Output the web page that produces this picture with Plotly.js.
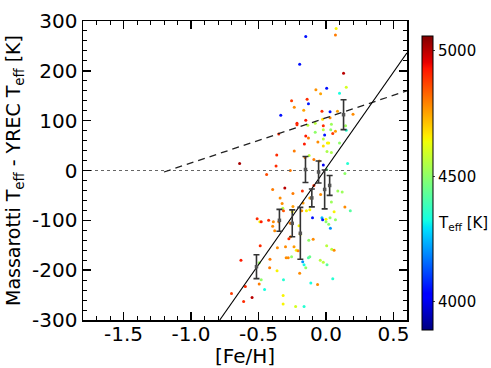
<!DOCTYPE html>
<html>
<head>
<meta charset="utf-8">
<script src="https://cdn.plot.ly/plotly-3.0.1.min.js"></script>
<style>
  html, body { margin: 0; padding: 0; background: #fff; }
  #grafica { width: 491px; height: 368px; }
</style>
</head>
<body>
<div id="grafica"></div>
<script>
// estrellas: [Fe/H], diferencia de Teff (Massarotti - YREC), Teff
const feh = [
  -0.15, 0.07, 0.075, -0.195, 0.13, 0.005, -0.075, -0.04, 0.10, 0.15,
  -0.255, -0.14, -0.13, -0.235, -0.335, -0.165, -0.03, 0.03, 0.085, 0.2,
  -0.215, -0.215, -0.15, -0.135, -0.025, 0.03, 0.04, -0.02, 0.145, 0.15,
  -0.08, -0.02, 0.035, -0.35, -0.15, -0.13, -0.01, 0.05, 0.07, -0.08,
  -0.02, -0.16, -0.06, 0.01, 0.02, -0.02, 0.1, -0.235, -0.125, 0.0075,
  0.04, -0.365, -0.64, -0.37, -0.155, -0.09, -0.05, -0.44, -0.265, -0.02,
  0.005, 0.16, 0.14, -0.395, -0.305, -0.245, -0.175, -0.09, -0.34, -0.325,
  -0.245, -0.17, -0.12, -0.04, 0.0875, 0.12, 0.04, 0.14, 0.18, -0.32,
  -0.315, -0.25, -0.18, -0.145, -0.12, -0.1, -0.03, -0.025, 0.0, 0.03,
  0.06, 0.07, -0.51, -0.49, -0.48, -0.425, -0.39, -0.395, -0.38, -0.35,
  -0.265, -0.2, -0.19, -0.19, -0.275, -0.262, -0.237, -0.22, -0.207, -0.1275,
  -0.095, 0.0, 0.02, 0.0325, -0.4875, -0.36, -0.3, -0.295, -0.255, -0.28,
  -0.63, -0.415, -0.495, -0.4175, -0.3625, -0.1725, -0.1625, -0.15, -0.13, -0.12,
  -0.0425, -0.02, 0.0075, 0.0425, 0.06, 0.005, -0.48, -0.495, -0.455, -0.315,
  -0.195, -0.1125, -0.0625, 0.05, -0.5975, -0.7, -0.61, -0.5475, -0.3175, -0.3175,
  -0.225, -0.1625
];
const dTeff = [
  269, 272, 285, 213, 195, 165, 162, 154, 155, 167,
  140, 143, 134, 127, 111, 121, 119, 118, 119, 113,
  95, 92, 101, 91, 103, 106, 93, 90, 90, 81,
  95, 82, 82, 73, 69, 65, 71, 74, 79, 77,
  63, 53, 57, 55, 55, 49, 55, 39, 30, 38,
  36, 31, 14, 9, 26, 22, 19, -8, 0, 11,
  2, 14, -6, -38, -35, -46, -41, -30, -55, -66,
  -72, -65, -55, -48, -41, -43, -63, -73, -81, -76,
  -81, -83, -81, -81, -79, -95, -95, -99, -98, -95,
  -83, -99, -97, -103, -103, -100, -103, -112, -121, -103,
  -106, -111, -128, -126, -137, -133, -153, -160, -161, -140,
  -138, -103, -108, -116, -151, -155, -153, -175, -173, -175,
  -180, -178, -185, -195, -201, -183, -189, -195, -175, -173,
  -180, -184, -189, -158, -160, -151, -219, -228, -239, -219,
  -206, -226, -229, -217, -233, -247, -263, -255, -251, -268,
  -273, -273
];
const teff = [
  4050, 4800, 4650, 4050, 5000, 4050, 4770, 4750, 4330, 4600,
  4880, 4900, 4060, 4780, 4050, 4750, 4900, 4050, 4760, 4780,
  4920, 4900, 4920, 4560, 4680, 4780, 4520, 4900, 4520, 4350,
  4560, 4560, 4500, 4900, 4920, 4800, 4060, 4880, 4760, 4500,
  4560, 4920, 4780, 4650, 4650, 4680, 4500, 4800, 4560, 4540,
  4540, 4900, 5020, 4900, 4800, 4800, 4780, 4860, 4800, 4000,
  4450, 4350, 4500, 4800, 5000, 4800, 4900, 4900, 4780, 4780,
  4760, 4760, 4760, 4780, 4520, 4520, 4520, 4780, 4420, 4560,
  4850, 4650, 4780, 4650, 4650, 4050, 4250, 4060, 4650, 4500,
  4650, 4500, 4900, 4650, 4920, 4900, 4780, 4780, 4780, 4780,
  4800, 4650, 4650, 4780, 4900, 4800, 4760, 4650, 4780, 4500,
  4780, 4500, 4500, 4200, 4900, 4780, 4780, 4780, 4500, 4780,
  4920, 4800, 4520, 4800, 4650, 4200, 4330, 4500, 4400, 4450,
  4560, 4560, 4420, 4560, 4780, 4560, 4500, 4800, 4330, 4350,
  4780, 4330, 4780, 4350, 4900, 4880, 4900, 5000, 4650, 4650,
  4600, 4350
];

// promedios por intervalo con su error
const binFeh = [-0.515, -0.345, -0.25, -0.19, -0.152, -0.105, -0.055, -0.01, 0.027, 0.13];
const binDiff = [-193, -100, -106, -126, 2, -55, -3, -38, -30, 112];
const binErr = [24, 22, 27, 52, 26, 18, 22, 39, 20, 30];

// recta ajustada (solida), recta discontinua y linea cero
const fitX = [-0.787, 0.6];
const fitY = [-300, 236];
const dashX = [-1.2, 0.6];
const dashY = [-3, 160];
const zeroX = [-1.8, 0.6];
const zeroY = [0, 0];

const xTicks = [-1.5, -1.0, -0.5, 0.0, 0.5];
const xTickText = ['-1.5', '-1.0', '-0.5', '0.0', '0.5'];
const yTicks = [-300, -200, -100, 0, 100, 200, 300];
const yTickText = ['-300', '-200', '-100', '0', '100', '200', '300'];
const cbTicks = [4000, 4500, 5000];

// paleta jet como la de matplotlib
function jet(f) {
  function seg(pts) {
    for (let i = 0; i < pts.length - 1; i++) {
      const [x0, y0] = pts[i], [x1, y1] = pts[i + 1];
      if (f >= x0 && f <= x1) return y0 + (y1 - y0) * (f - x0) / (x1 - x0);
    }
    return pts[pts.length - 1][1];
  }
  const r = seg([[0, 0], [0.35, 0], [0.66, 1], [0.89, 1], [1, 0.5]]);
  const g = seg([[0, 0], [0.125, 0], [0.375, 1], [0.64, 1], [0.91, 0], [1, 0]]);
  const b = seg([[0, 0.5], [0.11, 1], [0.34, 1], [0.65, 0], [1, 0]]);
  return `rgb(${Math.round(r * 255)},${Math.round(g * 255)},${Math.round(b * 255)})`;
}
const jetScale = [0, 0.11, 0.125, 0.34, 0.35, 0.375, 0.5, 0.64, 0.65, 0.66, 0.89, 0.91, 1]
  .map(f => [f, jet(f)]);

const fuente = 'DejaVu Sans, Arial, sans-serif';

const trazas = [
  {
    x: feh, y: dTeff,
    mode: 'markers', type: 'scatter',
    marker: {
      size: 3, color: teff, colorscale: jetScale, cmin: 3888, cmax: 5058,
      line: { width: 0 },
      colorbar: {
        x: 1.045, xanchor: 'left', xpad: 0,
        y: 0.458, yanchor: 'middle', ypad: 0,
        len: 294, lenmode: 'pixels',
        thickness: 11, thicknessmode: 'pixels',
        outlinewidth: 1, outlinecolor: '#000',
        tickvals: cbTicks, ticks: 'outside', ticklen: 2,
        tickfont: { family: fuente, size: 15, color: '#000' }
      }
    },
    hoverinfo: 'skip'
  },
  {
    x: zeroX, y: zeroY, mode: 'lines', type: 'scatter',
    line: { color: '#666', width: 1.2, dash: 'dot' }, hoverinfo: 'skip'
  },
  {
    x: dashX, y: dashY, mode: 'lines', type: 'scatter',
    line: { color: '#222', width: 1.3, dash: '7px,5px' }, hoverinfo: 'skip'
  },
  {
    x: fitX, y: fitY, mode: 'lines', type: 'scatter',
    line: { color: '#000', width: 1.1 }, hoverinfo: 'skip'
  },
  {
    x: binFeh, y: binDiff, mode: 'markers', type: 'scatter',
    marker: { symbol: 'square', size: 3.5, color: '#555' },
    error_y: { type: 'data', array: binErr, visible: true, color: '#333', thickness: 1.6, width: 3 },
    hoverinfo: 'skip'
  }
];

const layout = {
  width: 491, height: 368,
  margin: { l: 83, r: 84, t: 21, b: 48 },
  paper_bgcolor: '#fff', plot_bgcolor: '#fff',
  showlegend: false,
  font: { family: fuente, size: 20, color: '#000' },
  xaxis: {
    range: [-1.8, 0.6],
    tickvals: xTicks, ticktext: xTickText,
    ticks: 'inside', ticklen: 8, tickwidth: 1.5, tickcolor: '#000',
    ticklabelstandoff: -5,
    minor: { tickmode: 'linear', tick0: 0, dtick: 0.1, ticks: 'inside', ticklen: 4, tickwidth: 1, tickcolor: '#000' },
    showline: true, linecolor: '#000', linewidth: 1.5, mirror: 'allticks',
    showgrid: false, zeroline: false,
    tickfont: { family: fuente, size: 20 },
    title: { text: '[Fe/H]', font: { family: fuente, size: 20 }, standoff: 6 }
  },
  yaxis: {
    range: [-300, 300],
    tickvals: yTicks, ticktext: yTickText,
    ticks: 'inside', ticklen: 8, tickwidth: 1.5, tickcolor: '#000',
    minor: { tickmode: 'linear', tick0: 0, dtick: 20, ticks: 'inside', ticklen: 4, tickwidth: 1, tickcolor: '#000' },
    showline: true, linecolor: '#000', linewidth: 1.5, mirror: 'allticks',
    showgrid: false, zeroline: false,
    tickfont: { family: fuente, size: 20 },
    title: { text: 'Massarotti T<sub>eff</sub> - YREC T<sub>eff</sub> [K]', font: { family: fuente, size: 19 }, standoff: 6 }
  },
  annotations: [
    {
      text: 'T<sub>eff</sub> [K]', xref: 'paper', yref: 'paper',
      x: 1.089, y: 0.324, xanchor: 'left', yanchor: 'middle', showarrow: false,
      font: { family: fuente, size: 15, color: '#000' }
    }
  ]
};

Plotly.newPlot('grafica', trazas, layout, { staticPlot: true });
</script>
</body>
</html>
